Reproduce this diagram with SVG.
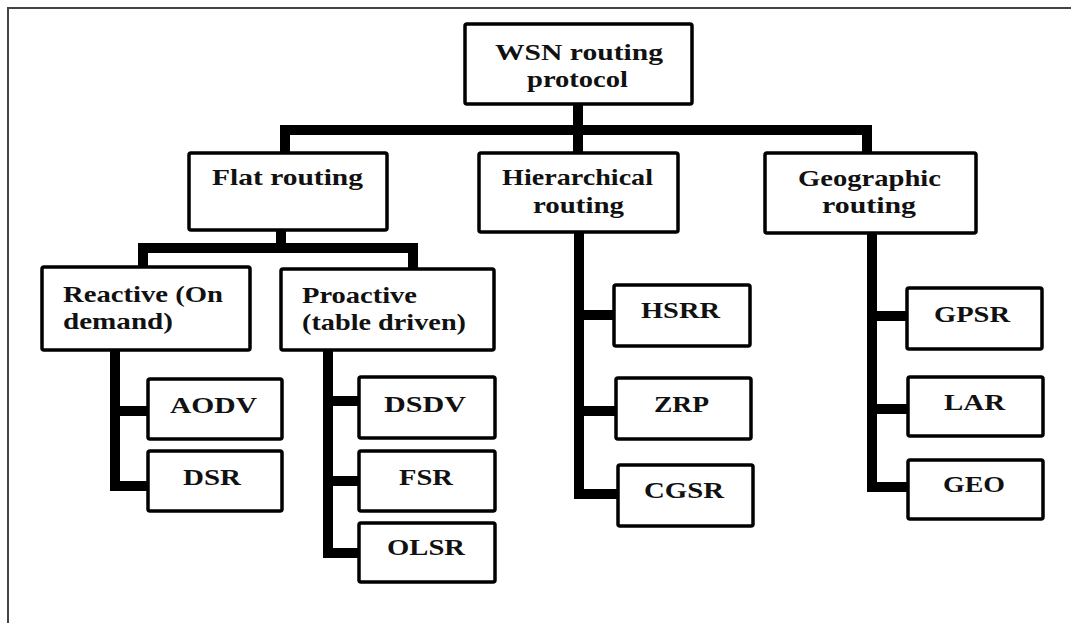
<svg xmlns="http://www.w3.org/2000/svg" width="1071" height="623" viewBox="0 0 1071 623">
<style>
.box{fill:#fff;stroke:#000;stroke-width:3.5}
.t{font-family:"Liberation Serif","Times New Roman",serif;font-weight:bold;font-size:24px;fill:#111}
.c{fill:none;stroke:#000;stroke-width:10;stroke-linejoin:miter;stroke-linecap:butt}
</style>
<rect width="1071" height="623" fill="#fff"/>
<path d="M8,623 V8 H1071" fill="none" stroke="#444" stroke-width="2"/>
<g id="connectors">
<path class="c" d="M285,153 V130 H867 V153"/>
<path class="c" d="M578,104 V153"/>
<path class="c" d="M281,230 V248"/>
<path class="c" d="M143,267 V248 H413 V269"/>
<path class="c" d="M115,350 V486 H148 M115,411 H148"/>
<path class="c" d="M328,350 V553 H359 M328,401 H359 M328,481 H359"/>
<path class="c" d="M579,232 V494 H618 M579,315 H614 M579,411 H616"/>
<path class="c" d="M872,233 V487 H908 M872,316 H907 M872,409 H908"/>
</g>
<g id="root"><rect class="box" x="465" y="24" width="227" height="80" rx="2"/>
<text class="t" x="495" y="60" textLength="168" lengthAdjust="spacingAndGlyphs">WSN routing</text>
<text class="t" x="527" y="87" textLength="101" lengthAdjust="spacingAndGlyphs">protocol</text></g>
<g id="flat"><rect class="box" x="189" y="153" width="198" height="77" rx="2"/>
<text class="t" x="212" y="185" textLength="151" lengthAdjust="spacingAndGlyphs">Flat routing</text></g>
<g id="hier"><rect class="box" x="479" y="153" width="199" height="79" rx="2"/>
<text class="t" x="502" y="185" textLength="151" lengthAdjust="spacingAndGlyphs">Hierarchical</text>
<text class="t" x="533" y="213" textLength="91" lengthAdjust="spacingAndGlyphs">routing</text></g>
<g id="geo"><rect class="box" x="765" y="153" width="211" height="80" rx="2"/>
<text class="t" x="798" y="186" textLength="143" lengthAdjust="spacingAndGlyphs">Geographic</text>
<text class="t" x="822" y="213" textLength="94" lengthAdjust="spacingAndGlyphs">routing</text></g>
<g id="reactive"><rect class="box" x="42" y="267" width="208" height="83" rx="2"/>
<text class="t" x="63" y="302" textLength="160" lengthAdjust="spacingAndGlyphs">Reactive (On</text>
<text class="t" x="63" y="329" textLength="110" lengthAdjust="spacingAndGlyphs">demand)</text></g>
<g id="proactive"><rect class="box" x="281" y="269" width="213" height="81" rx="2"/>
<text class="t" x="302" y="303" textLength="115" lengthAdjust="spacingAndGlyphs">Proactive</text>
<text class="t" x="302" y="330" textLength="164" lengthAdjust="spacingAndGlyphs">(table driven)</text></g>
<g id="aodv"><rect class="box" x="148" y="379" width="134" height="60" rx="2"/>
<text class="t" x="170" y="413" textLength="87" lengthAdjust="spacingAndGlyphs">AODV</text></g>
<g id="dsr"><rect class="box" x="148" y="451" width="134" height="60" rx="2"/>
<text class="t" x="183" y="485" textLength="58" lengthAdjust="spacingAndGlyphs">DSR</text></g>
<g id="dsdv"><rect class="box" x="359" y="377" width="136" height="61" rx="2"/>
<text class="t" x="384" y="412" textLength="82" lengthAdjust="spacingAndGlyphs">DSDV</text></g>
<g id="fsr"><rect class="box" x="359" y="451" width="136" height="60" rx="2"/>
<text class="t" x="399" y="485" textLength="54" lengthAdjust="spacingAndGlyphs">FSR</text></g>
<g id="olsr"><rect class="box" x="359" y="523" width="136" height="59" rx="2"/>
<text class="t" x="387" y="555" textLength="78" lengthAdjust="spacingAndGlyphs">OLSR</text></g>
<g id="hsrr"><rect class="box" x="614" y="285" width="136" height="61" rx="2"/>
<text class="t" x="641" y="318" textLength="79" lengthAdjust="spacingAndGlyphs">HSRR</text></g>
<g id="zrp"><rect class="box" x="616" y="378" width="135" height="61" rx="2"/>
<text class="t" x="654" y="412" textLength="55" lengthAdjust="spacingAndGlyphs">ZRP</text></g>
<g id="cgsr"><rect class="box" x="618" y="465" width="135" height="61" rx="2"/>
<text class="t" x="644" y="498" textLength="80" lengthAdjust="spacingAndGlyphs">CGSR</text></g>
<g id="gpsr"><rect class="box" x="907" y="288" width="135" height="61" rx="2"/>
<text class="t" x="934" y="322" textLength="76" lengthAdjust="spacingAndGlyphs">GPSR</text></g>
<g id="lar"><rect class="box" x="908" y="377" width="135" height="59" rx="2"/>
<text class="t" x="944" y="410" textLength="61" lengthAdjust="spacingAndGlyphs">LAR</text></g>
<g id="geo2"><rect class="box" x="908" y="460" width="135" height="59" rx="2"/>
<text class="t" x="943" y="492" textLength="62" lengthAdjust="spacingAndGlyphs">GEO</text></g>
</svg>
